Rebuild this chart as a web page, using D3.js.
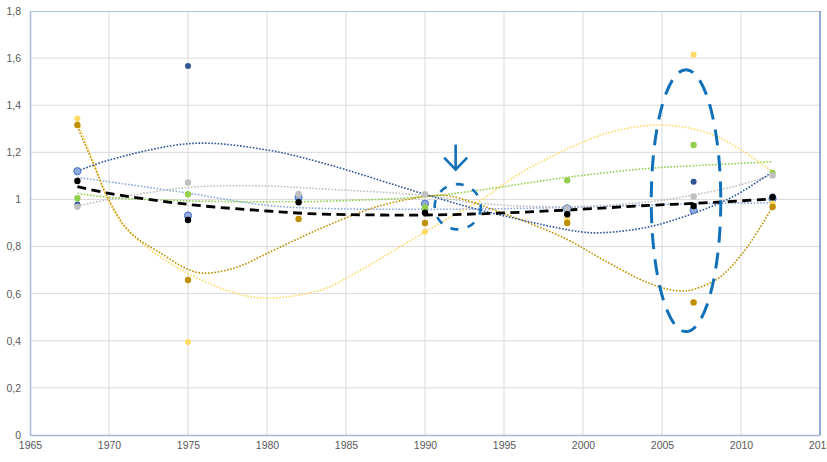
<!DOCTYPE html>
<html><head><meta charset="utf-8">
<script src="https://cdn.jsdelivr.net/npm/d3@7"></script>
<style>
html,body{margin:0;padding:0;background:#fff;}
svg{display:block;}
text{font-family:"Liberation Sans Narrow","Liberation Sans",Arial,sans-serif;fill:#595959;}
</style></head>
<body>
<svg id="chart" width="827" height="462"></svg>
<script>
// ---- data ----
const years = [1968, 1975, 1982, 1990, 1999, 2007, 2012];
const darkBlue  = [0.979, 1.567, null, null, null, 1.075, 1.012];
const lightBlue = [1.12, 0.932, 1.009, 0.982, 0.962, 0.955, 1.004];
const gold      = [1.316, 0.658, 0.917, 0.900, 0.900, 0.563, 0.968];
const yellow    = [1.344, 0.395, null, 0.863, 0.918, 1.614, 0.983];
const green     = [1.005, 1.022, null, 0.966, 1.081, 1.231, 1.113];
const gray      = [0.969, 1.072, 1.023, 1.022, 0.962, 1.013, 1.102];
const black     = [1.078, 0.913, 0.988, 0.944, 0.937, 0.972, 1.009];

// trendlines: [year, value]
const trendDarkBlue = [[1968,1.12],[1970,1.167],[1975.3,1.238],[1980,1.21],[1983.4,1.157],[1990,1.022],[1993.5,0.955],[1999.8,0.863],[2001.3,0.859],[2004.2,0.884],[2007,0.941],[2009.5,1.012],[2012,1.118]];
const trendLightBlue = [[1968,1.094],[1975,1.027],[1980,0.975],[1983.4,0.962],[1990,0.958],[1995,0.961],[2000,0.968],[2007,0.982],[2012,0.985]];
const trendGold = [[1968,1.309],[1969,1.153],[1970,0.997],[1971.3,0.863],[1973.2,0.775],[1975.6,0.69],[1978,0.71],[1980,0.771],[1983.4,0.877],[1987,0.97],[1990,1.012],[1991.5,1.015],[1995,0.94],[1999,0.83],[2001.3,0.743],[2004.2,0.644],[2006,0.612],[2007,0.618],[2008.7,0.672],[2010.4,0.799],[2012,0.969]];
const trendYellow = [[1968,1.334],[1969,1.16],[1970,0.99],[1971.3,0.86],[1975,0.686],[1979.3,0.584],[1983.4,0.615],[1985,0.665],[1990,0.862],[1992,0.94],[1993.5,0.995],[1996,1.11],[1999.8,1.238],[2002,1.29],[2005,1.316],[2008,1.28],[2010,1.21],[2012,1.118]];
const trendGreen = [[1968,1.026],[1970,1.009],[1975,0.994],[1980,0.99],[1983.4,0.992],[1990,1.012],[1993.5,1.04],[1999,1.094],[2004.2,1.132],[2007,1.143],[2012,1.16]];
const trendGray = [[1968,0.972],[1970,1.0],[1975,1.051],[1980,1.057],[1983.4,1.045],[1990,1.017],[1993.5,0.983],[1999,0.969],[2004.2,0.99],[2007,1.019],[2009.5,1.054],[2012,1.104]];
const trendBlack = [[1968,1.054],[1970,1.026],[1975,0.979],[1980,0.951],[1983.4,0.938],[1990,0.934],[1993.5,0.939],[1999,0.955],[2004.2,0.975],[2007,0.983],[2012,1.002]];

const xTicks = [1965,1970,1975,1980,1985,1990,1995,2000,2005,2010,2015];
const xTickLabels = ["1965","1970","1975","1980","1985","1990","1995","2000","2005","2010","2015"];
const yTicks = [0,0.2,0.4,0.6,0.8,1,1.2,1.4,1.6,1.8];
const yTickLabels = ["0","0,2","0,4","0,6","0,8","1","1,2","1,4","1,6","1,8"];

// annotations in data coordinates
const arrowYear = 1991.94, arrowFrom = 1.233, arrowTo = 1.127;
const smallEllipse = {year:1992.07, value:0.969, ry:1.46, rv:0.096};
const bigEllipse = {year:2006.52, value:0.995, ry:2.2, rv:0.556};

// ---- drawing ----
const svg = d3.select("#chart");
const L = 30, R = 820, T = 11, B = 435;
const x = d3.scaleLinear().domain([1965,2015]).range([L,R]);
const y = d3.scaleLinear().domain([0,1.8]).range([B,T]);

// gridlines
svg.append("g").selectAll("line").data(xTicks.filter(d=>d>1965&&d<2015)).join("line")
  .attr("x1",d=>x(d)).attr("x2",d=>x(d)).attr("y1",T).attr("y2",B)
  .attr("stroke","#D9D9D9").attr("stroke-width",1);
svg.append("g").selectAll("line").data(yTicks.filter(d=>d>0&&d<1.8)).join("line")
  .attr("x1",L).attr("x2",R).attr("y1",d=>y(d)).attr("y2",d=>y(d))
  .attr("stroke","#D9D9D9").attr("stroke-width",1);

// border
svg.append("line").attr("x1",L).attr("x2",R).attr("y1",T+0.5).attr("y2",T+0.5).attr("stroke","#B4C1D9");
svg.append("line").attr("x1",R).attr("x2",R).attr("y1",T).attr("y2",B).attr("stroke","#4F74B8").attr("stroke-width",1.2);

// axes
const yAxis = d3.axisLeft(y).tickValues(yTicks).tickSize(0).tickPadding(9)
  .tickFormat((d,i)=>yTickLabels[i]);
const gy = svg.append("g").attr("transform",`translate(${L},0)`).call(yAxis);
gy.select(".domain").attr("stroke","#A9B8D4").attr("stroke-width",1.5);
gy.selectAll("text").attr("font-size","10.5px").attr("fill","#595959")
  .style("font-family",'"Liberation Sans Narrow","Liberation Sans",Arial,sans-serif');

const xAxis = d3.axisBottom(x).tickValues(xTicks).tickSize(0).tickPadding(7)
  .tickFormat((d,i)=>xTickLabels[i]);
const gx = svg.append("g").attr("transform",`translate(0,${B})`).call(xAxis);
gx.select(".domain").attr("stroke","#A9B8D4").attr("stroke-width",1.5);
gx.selectAll("text").attr("font-size","10.5px").attr("fill","#595959")
  .style("font-family",'"Liberation Sans Narrow","Liberation Sans",Arial,sans-serif');

// trendlines
const line = d3.line().x(d=>x(d[0])).y(d=>y(d[1])).curve(d3.curveCatmullRom.alpha(0.5));
const trends = [
  {data:trendLightBlue, color:"#8FAADC"},
  {data:trendGray, color:"#BFBFBF"},
  {data:trendGreen, color:"#92D050"},
  {data:trendYellow, color:"#FFD966"},
  {data:trendGold, color:"#BF9000"},
  {data:trendDarkBlue, color:"#2F5597"}
];
svg.append("g").selectAll("path").data(trends).join("path")
  .attr("d",d=>line(d.data)).attr("fill","none")
  .attr("stroke",d=>d.color).attr("stroke-width",1.6)
  .attr("stroke-dasharray","1.6,1.6");

// black dashed trend
svg.append("path").attr("d",line(trendBlack)).attr("fill","none")
  .attr("stroke","#000").attr("stroke-width",2.8).attr("stroke-dasharray","9,5.5");

// markers
const series = [
  {vals:darkBlue, fill:"#2F5597", stroke:"none", r:3},
  {vals:lightBlue, fill:"#8FAADC", stroke:"#4472C4", r:3.6},
  {vals:yellow, fill:"#FFD966", stroke:"none", r:3},
  {vals:gold, fill:"#BF9000", stroke:"none", r:3.2},
  {vals:green, fill:"#92D050", stroke:"none", r:3.2},
  {vals:gray, fill:"#BFBFBF", stroke:"none", r:3.2},
  {vals:black, fill:"#000000", stroke:"none", r:3.2}
];
series.forEach(s=>{
  const pts = years.map((yr,i)=>[yr,s.vals[i]]).filter(p=>p[1]!=null);
  svg.append("g").selectAll("circle").data(pts).join("circle")
    .attr("cx",d=>x(d[0])).attr("cy",d=>y(d[1])).attr("r",s.r)
    .attr("fill",s.fill).attr("stroke",s.stroke).attr("stroke-width",1);
});

// annotations
const annColor = "#1170BA";
svg.append("ellipse")
  .attr("cx",x(smallEllipse.year)).attr("cy",y(smallEllipse.value))
  .attr("rx",x(smallEllipse.year+smallEllipse.ry)-x(smallEllipse.year))
  .attr("ry",y(smallEllipse.value)-y(smallEllipse.value+smallEllipse.rv))
  .attr("fill","none").attr("stroke",annColor).attr("stroke-width",2.6)
  .attr("stroke-dasharray","8,9.5");
svg.append("ellipse")
  .attr("cx",x(bigEllipse.year)).attr("cy",y(bigEllipse.value))
  .attr("rx",x(bigEllipse.year+bigEllipse.ry)-x(bigEllipse.year))
  .attr("ry",y(bigEllipse.value)-y(bigEllipse.value+bigEllipse.rv))
  .attr("fill","none").attr("stroke",annColor).attr("stroke-width",3)
  .attr("stroke-dasharray","16,10");
const ax = x(arrowYear), ay1 = y(arrowFrom), ay2 = y(arrowTo);
svg.append("line").attr("x1",ax).attr("x2",ax).attr("y1",ay1).attr("y2",ay2-1)
  .attr("stroke",annColor).attr("stroke-width",2.6);
svg.append("path")
  .attr("d",`M${ax-11.5},${ay2-12} L${ax},${ay2} L${ax+11.5},${ay2-12}`)
  .attr("fill","none").attr("stroke",annColor).attr("stroke-width",2.6)
  .attr("stroke-linejoin","miter");
</script>
</body></html>
